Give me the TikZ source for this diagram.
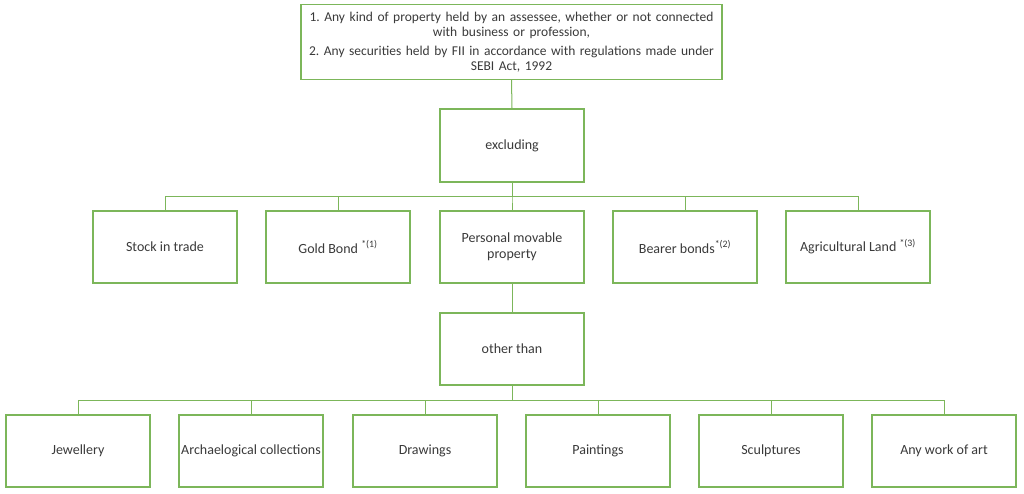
\documentclass[tikz,border=0pt]{standalone}
\usepackage{fontspec}
\setmainfont{Carlito}
\definecolor{boxgreen}{HTML}{7CB65A}
\definecolor{txt}{HTML}{3A3A3A}
\begin{document}
\begin{tikzpicture}[x=1pt,y=-1pt,
  bx/.style={draw=boxgreen,line width=1.2pt,fill=white,minimum width=144pt,minimum height=72pt,inner sep=1pt,align=center,text=txt,font=\fontsize{14}{16}\selectfont},
  ln/.style={draw=boxgreen,line width=1pt}]
\useasboundingbox (0,0) rectangle (1024,494);
\node[bx,minimum width=421pt,minimum height=75pt,text width=415pt,font=\fontsize{13.5}{15.5}\selectfont] (top) at (511.5,42) {1.\ Any kind of property held by an assessee, whether or not connected\\with business or profession,\\[3pt]2.\ Any securities held by FII in accordance with regulations made under\\SEBI Act, 1992};
\node[bx,minimum height=73pt] (excl) at (512,145.5) {excluding};
\node[bx] (stock) at (165,247) {Stock in trade};
\node[bx] (gold) at (338,247) {Gold Bond \textsuperscript{*(1)}};
\node[bx] (pers) at (512,247) {Personal movable\\property};
\node[bx] (bearer) at (685,247) {Bearer bonds\textsuperscript{*(2)}};
\node[bx] (agri) at (858,247) {Agricultural Land \textsuperscript{*(3)}};
\node[bx] (other) at (512,349) {other than};
\node[bx] (jew) at (78,451) {Jewellery};
\node[bx] (arch) at (251,451) {Archaelogical collections};
\node[bx] (draw) at (425,451) {Drawings};
\node[bx] (paint) at (598,451) {Paintings};
\node[bx] (sculp) at (771,451) {Sculptures};
\node[bx] (art) at (944,451) {Any work of art};
\draw[ln] (top.south) -- (excl.north);
\foreach \n in {stock,gold,pers,bearer,agri}
  \draw[ln] (excl.south) -- ++(0,14) -| (\n.north);
\draw[ln] (pers.south) -- (other.north);
\foreach \n in {jew,arch,draw,paint,sculp,art}
  \draw[ln] (other.south) -- ++(0,15) -| (\n.north);
\end{tikzpicture}
\end{document}
